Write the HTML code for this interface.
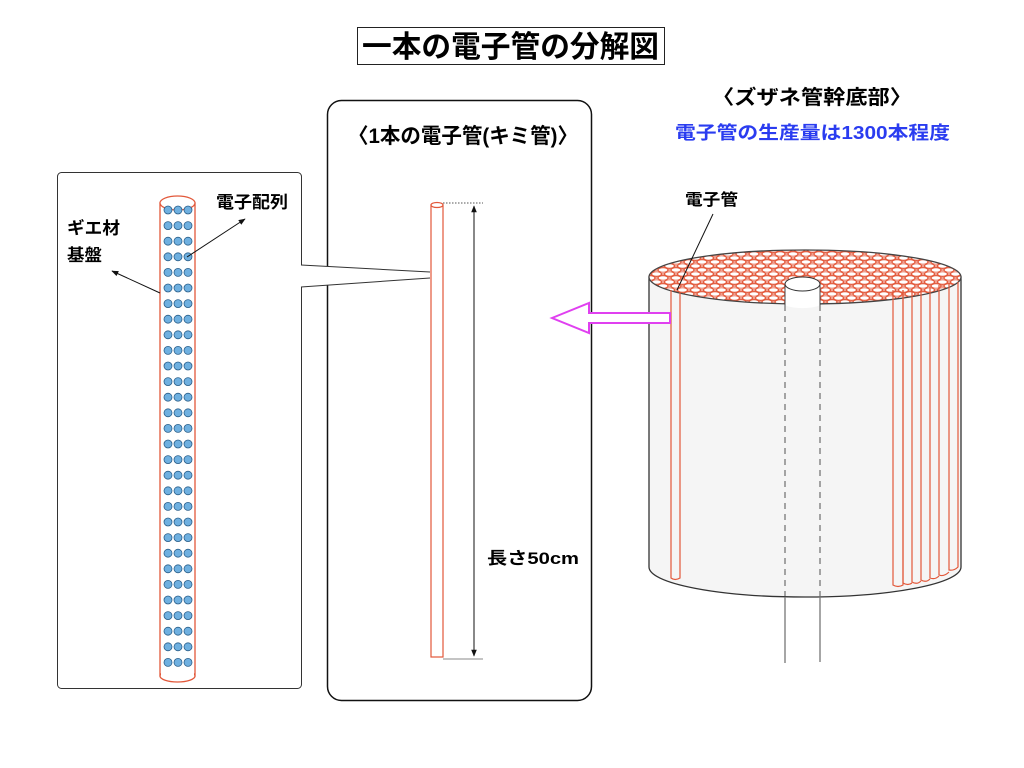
<!DOCTYPE html>
<html><head><meta charset="utf-8"><style>
html,body{margin:0;padding:0;background:#fff;}
svg{display:block;}
text{font-family:"Liberation Sans","Noto Sans CJK JP",sans-serif;font-weight:bold;}
</style></head><body>
<svg width="1024" height="768" viewBox="0 0 1024 768" xmlns="http://www.w3.org/2000/svg">
<defs>
<marker id="ah" viewBox="0 0 10 10" refX="9" refY="5" markerWidth="7" markerHeight="7" orient="auto-start-reverse"><path d="M0,1 L10,5 L0,9 z" fill="#111"/></marker>
<pattern id="tubes" x="0" y="0" width="13" height="8" patternUnits="userSpaceOnUse">
<rect width="13" height="8" fill="#f0a090"/>
<ellipse cx="6.5" cy="2" rx="5" ry="2.3" fill="#fff" stroke="#e2583a" stroke-width="1.2"/>
<ellipse cx="0" cy="6" rx="5" ry="2.3" fill="#fff" stroke="#e2583a" stroke-width="1.2"/>
<ellipse cx="13" cy="6" rx="5" ry="2.3" fill="#fff" stroke="#e2583a" stroke-width="1.2"/>
</pattern>
</defs>

<!-- title -->
<rect x="357.5" y="27.5" width="307" height="37" fill="#fff" stroke="#222" stroke-width="1"/>
<text x="362" y="57" font-size="30" textLength="297" lengthAdjust="spacingAndGlyphs" fill="#000">一本の電子管の分解図</text>

<!-- left panel -->
<rect x="57.5" y="172.5" width="244" height="516" rx="4" fill="#fff" stroke="#333" stroke-width="1"/>
<!-- middle panel -->
<rect x="327.5" y="100.5" width="264" height="600" rx="14" fill="none" stroke="#111" stroke-width="1.5"/>
<polygon points="300,265 430,272 430,278 300,287" fill="#fff" stroke="none"/>
<line x1="301" y1="265" x2="430" y2="272" stroke="#333"/>
<line x1="301" y1="287" x2="430" y2="278" stroke="#333"/>

<!-- left tube -->
<rect x="160" y="203" width="35" height="473" fill="#fff" stroke="#e2583a" stroke-width="1.3"/>
<ellipse cx="177.5" cy="203" rx="17.5" ry="7" fill="#fff" stroke="#e2583a" stroke-width="1.3"/>
<ellipse cx="177.5" cy="676" rx="17.5" ry="6" fill="#fff" stroke="#e2583a" stroke-width="1.3"/>
<rect x="161" y="660" width="33" height="15" fill="#fff"/>
<g fill="#6fb0e0" stroke="#2a5f8a" stroke-width="0.8" id="dots"></g>

<text x="216" y="208" font-size="17" textLength="72" lengthAdjust="spacingAndGlyphs" fill="#000">電子配列</text>
<text x="67" y="234" font-size="17" textLength="53" lengthAdjust="spacingAndGlyphs" fill="#000">ギエ材</text>
<text x="67" y="261" font-size="17" textLength="35" lengthAdjust="spacingAndGlyphs" fill="#000">基盤</text>
<line x1="187" y1="257" x2="245" y2="219" stroke="#111" marker-end="url(#ah)"/>
<line x1="160" y1="293" x2="112" y2="271" stroke="#111" marker-end="url(#ah)"/>

<!-- middle -->
<text x="348" y="143" font-size="21" textLength="230" lengthAdjust="spacingAndGlyphs" fill="#000">〈1本の電子管(キミ管)〉</text>
<rect x="431" y="205" width="12" height="452" fill="#fff" stroke="#e2583a" stroke-width="1.2"/>
<ellipse cx="437" cy="205" rx="6" ry="2.5" fill="#fff" stroke="#e2583a" stroke-width="1.2"/>
<line x1="443" y1="203" x2="483" y2="203" stroke="#555" stroke-dasharray="1.5 1.5"/>
<line x1="443" y1="659" x2="483" y2="659" stroke="#888"/>
<line x1="474" y1="206" x2="474" y2="656" stroke="#111" marker-start="url(#ah)" marker-end="url(#ah)"/>
<text x="487" y="564" font-size="17" textLength="92" lengthAdjust="spacingAndGlyphs" fill="#000">長さ50cm</text>

<!-- right -->
<text x="712" y="104" font-size="20" textLength="200" lengthAdjust="spacingAndGlyphs" fill="#000">〈ズザネ管幹底部〉</text>
<text x="675" y="139" font-size="18" textLength="275" lengthAdjust="spacingAndGlyphs" fill="#2a3cf0">電子管の生産量は1300本程度</text>
<text x="685" y="205" font-size="16" textLength="53" lengthAdjust="spacingAndGlyphs" fill="#000">電子管</text>

<!-- cylinder body -->
<path d="M649,277 L649,567 A156,30 0 0 0 961,567 L961,277 Z" fill="#f5f5f5" stroke="#333" stroke-width="1.3"/>
<ellipse cx="805" cy="277" rx="156" ry="27" fill="url(#tubes)" stroke="#444" stroke-width="1.3"/>
<!-- hub -->
<path d="M785,284 L785,304 A17,4 0 0 0 820,304 L820,284 Z" fill="#fff" stroke="none"/>
<line x1="785" y1="284" x2="785" y2="305" stroke="#444"/>
<line x1="820" y1="284" x2="820" y2="305" stroke="#444"/>
<ellipse cx="802.5" cy="284" rx="17.5" ry="7" fill="#fff" stroke="#333" stroke-width="1"/>
<line x1="785" y1="305" x2="785" y2="596" stroke="#777" stroke-width="1.3" stroke-dasharray="6 5"/>
<line x1="820" y1="305" x2="820" y2="596" stroke="#777" stroke-width="1.3" stroke-dasharray="6 5"/>
<line x1="785" y1="597" x2="785" y2="663" stroke="#777" stroke-width="1.3"/>
<line x1="820" y1="597" x2="820" y2="662" stroke="#777" stroke-width="1.3"/>
<!-- side tubes -->
<g fill="none" stroke="#e2583a" stroke-width="1.2">
<path d="M671,290 L671,578 Q675,581 680,578 L680,292"/>
<path d="M893,290 L893,585 Q898,588 903,585 L903,290"/>
<path d="M903,290 L903,583 Q908,586 912,583"/>
<path d="M912,289 L912,582 Q917,585 921,581"/>
<path d="M921,288 L921,580 Q926,583 930,579"/>
<path d="M930,287 L930,578 Q935,580 939,576"/>
<path d="M939,285 L939,575 Q944,577 949,572"/>
<path d="M949,283 L949,570 Q954,571 958,567 L958,282"/>
</g>
<line x1="713" y1="214" x2="677" y2="290" stroke="#111" stroke-width="1"/>
<!-- pink arrow -->
<polygon points="552,318 589,303 589,313 670,313 670,323 589,323 589,333" fill="#fff" stroke="#e040f0" stroke-width="2"/>
</svg>
<script>
(function(){var g=document.getElementById('dots');var s='';for(var r=0;r<30;r++){var y=210+r*15.6;[168,178,188].forEach(function(x){s+='<circle cx="'+x+'" cy="'+y.toFixed(1)+'" r="4"/>';});}g.innerHTML=s;})();
</script>
</body></html>
